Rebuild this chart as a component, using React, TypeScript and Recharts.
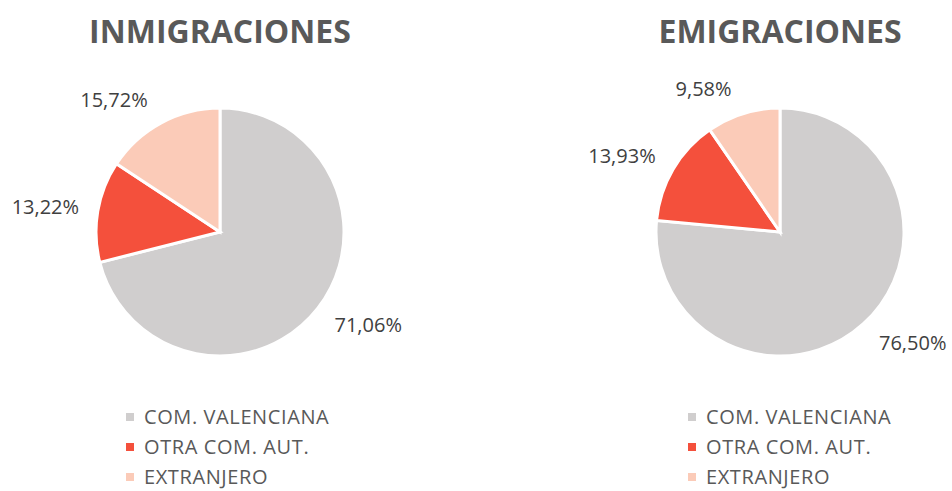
import React from "react";
import {Cell, Pie, PieChart} from "recharts";

const categories = ["COM. VALENCIANA", "OTRA COM. AUT.", "EXTRANJERO"];
const inmigraciones = [71.06, 13.22, 15.72];
const emigraciones = [76.5, 13.93, 9.58];
const colors = ["#D0CECE", "#F4503C", "#FBCBB8"];

const FONT = "'Open Sans', sans-serif";
const RADIAN = Math.PI / 180;

const fmt = (v: number) => v.toFixed(2).replace(".", ",") + "%";

// places the label box just outside the slice edge, like Excel does
const renderLabel = (props: any) => {
    const {cx, cy, midAngle, outerRadius, value} = props;
    const txt = fmt(value);
    const cos = Math.cos(-midAngle * RADIAN);
    const sin = Math.sin(-midAngle * RADIAN);
    const halfW = txt.length * 5.75;
    const r = outerRadius + 10;
    const x = cx + r * cos + Math.sign(cos) * (halfW + 8);
    const y = cy + r * sin + sin * 16;
    return (
        <text x={x} y={y} fill="#404040" fontSize={20} fontFamily={FONT}
              textAnchor="middle" dominantBaseline="central">
            {txt}
        </text>
    );
};

function HalfPie({title, values, left, cx, legendX}: {title: string, values: number[], left: number, cx: number, legendX: number}) {
    const data = categories.map((name, i) => ({name, value: values[i]}));
    return (
        <div style={{position: "absolute", left, top: 0, width: 476, height: 491}}>
            <div style={{position: "absolute", left: cx - 200, width: 400, top: 9, textAlign: "center",
                fontFamily: FONT, fontWeight: 700, fontSize: 32, color: "#595959"}}>
                {title}
            </div>
            <PieChart width={476} height={491} margin={{top: 0, right: 0, bottom: 0, left: 0}}>
                <Pie data={data} dataKey="value" nameKey="name" cx={cx} cy={232} outerRadius={124}
                     startAngle={90} endAngle={-270} stroke="#ffffff" strokeWidth={3}
                     label={renderLabel} labelLine={false} isAnimationActive={false}>
                    {data.map((d, i) => <Cell key={d.name} fill={colors[i]}/>)}
                </Pie>
            </PieChart>
            <ul style={{position: "absolute", left: legendX, top: 402, margin: 0, padding: 0, listStyle: "none",
                fontFamily: FONT, fontSize: 20, lineHeight: "22px", letterSpacing: 0.6, color: "#595959"}}>
                {categories.map((c, i) => (
                    <li key={c} style={{display: "flex", alignItems: "center", height: 30}}>
                        <span style={{width: 8, height: 8, background: colors[i], marginRight: 10}}/>
                        <span>{c}</span>
                    </li>
                ))}
            </ul>
        </div>
    );
}

export default function App() {
    return (
        <div style={{position: "relative", width: 952, height: 491, background: "#fff", overflow: "hidden"}}>
            <style>{`body{margin:0}`}</style>
            <HalfPie title="INMIGRACIONES" values={inmigraciones} left={0} cx={220} legendX={126}/>
            <HalfPie title="EMIGRACIONES" values={emigraciones} left={476} cx={304} legendX={212}/>
        </div>
    );
}
